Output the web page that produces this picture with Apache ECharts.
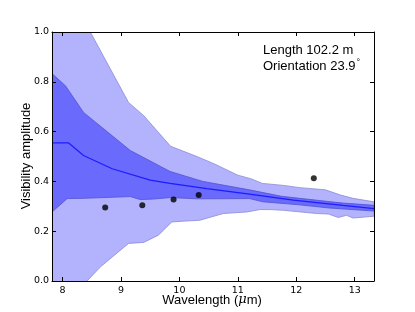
<!DOCTYPE html>
<html><head><meta charset="utf-8">
<script src="https://cdn.jsdelivr.net/npm/echarts@6/dist/echarts.min.js"></script>
<style>html,body{margin:0;padding:0;background:#fff}#c{width:415px;height:312px}</style>
</head><body><div id="c"></div>
<script>
// Wavelength (um) / visibility amplitude pairs
const outerUpper = [[7.82,1.3],[8.36,1.05],[9.13,0.717],[9.39,0.664],[9.85,0.541],[10.3,0.5],[10.6,0.47],[11.0,0.425],[11.22,0.411],[11.42,0.392],[11.78,0.384],[12.06,0.375],[12.5,0.366],[12.76,0.345],[12.97,0.332],[13.33,0.318]];
const outerLower = [[7.82,-0.15],[8.42,0.0],[8.65,0.057],[9.13,0.151],[9.39,0.155],[9.64,0.184],[9.87,0.237],[10.05,0.24],[10.35,0.244],[10.75,0.271],[11.15,0.277],[11.38,0.287],[11.55,0.287],[11.78,0.284],[12.35,0.271],[12.55,0.269],[12.72,0.255],[12.86,0.264],[12.97,0.253],[13.33,0.26]];
const innerUpper = [[7.82,0.833],[8.05,0.784],[8.36,0.677],[9.16,0.524],[9.84,0.44],[10.4,0.4],[11.2,0.366],[11.75,0.34],[12.52,0.32],[12.8,0.313],[13.33,0.304]];
const innerLower = [[7.82,0.277],[8.08,0.331],[8.36,0.332],[9.16,0.339],[9.33,0.327],[9.55,0.329],[9.84,0.335],[10.3,0.33],[11.2,0.331],[11.43,0.318],[12.05,0.306],[12.57,0.293],[13.33,0.281]];
const median = [[7.82,0.555],[8.1,0.555],[8.36,0.504],[8.85,0.451],[9.5,0.405],[9.84,0.392],[10.47,0.371],[11.2,0.349],[11.95,0.325],[12.8,0.304],[13.33,0.291]];
const measured = [[8.73,0.295],[9.365,0.304],[9.9,0.327],[10.33,0.345],[12.3,0.413]];
const yTicks = ['0.0','0.2','0.4','0.6','0.8','1.0'];
const baselineLength = '102.2';
const orientation = '23.9';

const chart = echarts.init(document.getElementById('c'), null, {renderer:'canvas'});
function band(upper, lower, fill, stroke, z){
  return {
    type:'custom', clip:true, silent:true, z:z, data:[[upper[0][0], upper[0][1]]],
    renderItem:(params, api)=>{
      const pts = upper.map(p=>api.coord(p)).concat(lower.slice().reverse().map(p=>api.coord(p)));
      return {type:'polygon', shape:{points:pts}, style:{fill:fill, stroke:stroke, lineWidth:0.8}};
    }
  };
}
const tickFont = {fontFamily:'DejaVu Sans', fontSize:9.5, color:'#000'};
chart.setOption({
  animation:false,
  grid:{left:52, right:41, top:32, bottom:31, containLabel:false},
  xAxis:[
    {type:'value', min:7.82, max:13.33, splitNumber:5, position:'bottom', z:10,
     axisLine:{show:true, onZero:false, lineStyle:{color:'#000', width:1}},
     axisTick:{show:true, inside:true, length:4, lineStyle:{color:'#000'}},
     axisLabel:Object.assign({showMinLabel:false, showMaxLabel:false, margin:5}, tickFont),
     splitLine:{show:false}},
    {type:'value', min:7.82, max:13.33, splitNumber:5, position:'top', z:10,
     axisLine:{show:true, onZero:false, lineStyle:{color:'#000', width:1}},
     axisTick:{show:true, inside:true, length:4, lineStyle:{color:'#000'}},
     axisLabel:{show:false}, splitLine:{show:false}}
  ],
  yAxis:[
    {type:'value', min:0, max:1, interval:0.2, position:'left', z:10,
     axisLine:{show:true, onZero:false, lineStyle:{color:'#000', width:1}},
     axisTick:{show:true, inside:true, length:4, lineStyle:{color:'#000'}},
     axisLabel:Object.assign({margin:3, formatter:(v)=>yTicks[Math.round(v/0.2)]}, tickFont),
     splitLine:{show:false}},
    {type:'value', min:0, max:1, interval:0.2, position:'right', z:10,
     axisLine:{show:true, onZero:false, lineStyle:{color:'#000', width:1}},
     axisTick:{show:true, inside:true, length:4, lineStyle:{color:'#000'}},
     axisLabel:{show:false}, splitLine:{show:false}}
  ],
  graphic:[
    {type:'text', x:26, y:156, rotation:Math.PI/2, silent:true,
     style:{text:'Visibility amplitude', fontFamily:'Liberation Sans', fontSize:13, fill:'#000', align:'center', verticalAlign:'middle'}},
    {type:'text', x:212, y:300, silent:true,
     style:{text:'Wavelength ({i|μ}m)', fontFamily:'Liberation Sans', fontSize:13, fill:'#000', align:'center', verticalAlign:'middle',
       rich:{i:{fontFamily:'DejaVu Serif', fontStyle:'italic', fontSize:13}}}},
    {type:'text', x:263, y:50, silent:true,
     style:{text:'Length ' + baselineLength + ' m', fontFamily:'Liberation Sans', fontSize:13, fill:'#000', align:'left', verticalAlign:'middle'}},
    {type:'text', x:263, y:66, silent:true,
     style:{text:'Orientation ' + orientation + '{s|°}', fontFamily:'Liberation Sans', fontSize:13, fill:'#000', align:'left', verticalAlign:'middle',
       rich:{s:{fontSize:9, verticalAlign:'top', padding:[0,0,7,1]}}}}
  ],
  series:[
    band(outerUpper, outerLower, '#b2b2fd', '#8a8ad6', 1),
    band(innerUpper, innerLower, '#6a6afd', '#5252d0', 2),
    {type:'line', data:median, showSymbol:false, z:3, lineStyle:{color:'#1c1cff', width:1.2}, silent:true},
    {type:'scatter', data:measured, symbolSize:6, z:4, itemStyle:{color:'#000'}, silent:true}
  ]
});
</script></body></html>
